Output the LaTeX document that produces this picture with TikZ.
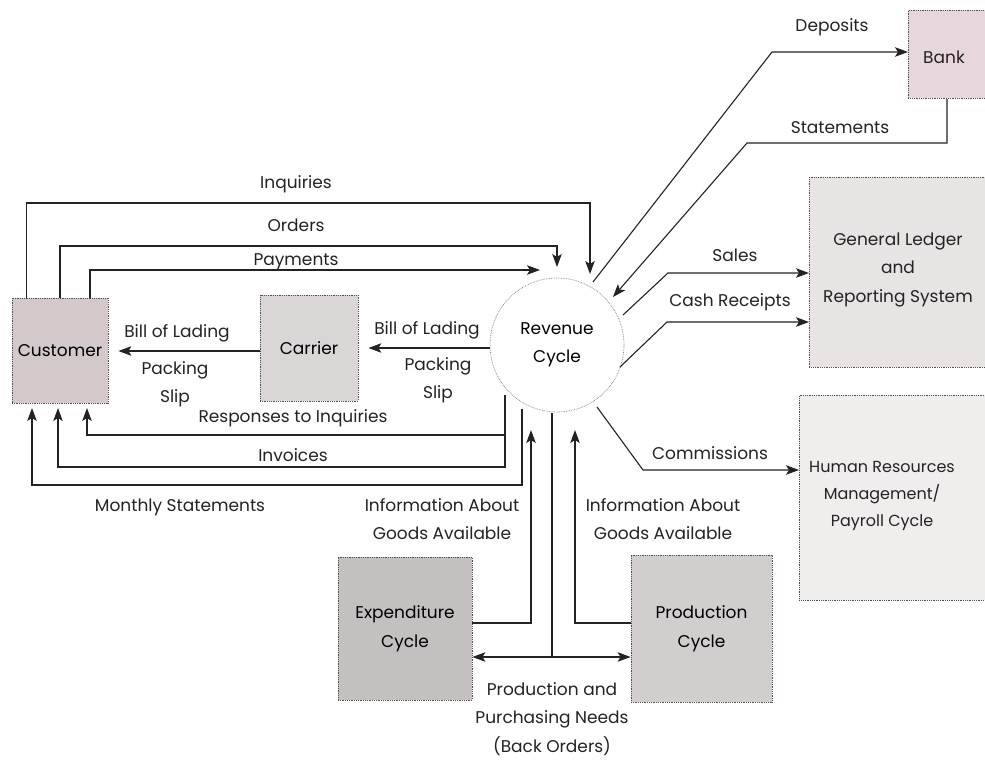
\documentclass[tikz,border=0pt]{standalone}
\usepackage{fontspec}
\setmainfont{Poppins}
\usetikzlibrary{arrows.meta,calc}
\definecolor{ink}{HTML}{232323}
\definecolor{custfill}{HTML}{D3C9CB}
\definecolor{carrfill}{HTML}{DAD6D6}
\definecolor{bankfill}{HTML}{E8D6DD}
\definecolor{glfill}{HTML}{E8E4E4}
\definecolor{hrfill}{HTML}{F0EDED}
\definecolor{expfill}{HTML}{C4C0C0}
\definecolor{prodfill}{HTML}{D2CECE}
\begin{document}
\begin{tikzpicture}[x=1pt,y=-1pt,
  font=\fontsize{17}{28.5}\selectfont,
  box/.style={draw=ink!80, densely dotted, line width=0.8pt, inner sep=0pt, align=center},
  flow/.style={draw=ink, line width=1.1pt},
  tip/.tip={Stealth[length=13pt,width=9.5pt,inset=3pt]},
  arr/.style={flow, -tip},
  lbl/.style={text=ink, inner sep=0pt, align=center}]
\clip (0,0) rectangle (985,762);
\fill[white] (0,0) rectangle (985,762);
% boxes
\node[box, fill=custfill, minimum width=96pt, minimum height=105pt] (cust) at (60,350.5) {Customer};
\node[box, fill=carrfill, minimum width=98pt, minimum height=106pt] (carr) at (309,348) {Carrier};
\node[box, fill=bankfill, minimum width=80pt, minimum height=88pt, anchor=north west] (bank) at (908,10) {};
\node[lbl] (banktxt) at (944,57) {Bank};
\node[box, fill=glfill, minimum width=185pt, minimum height=190pt, anchor=north west] (gl) at (809,177) {};
\node[lbl] (gltxt) at (898,270) {General Ledger\\and\\Reporting System};
\node[box, fill=hrfill, minimum width=195pt, minimum height=205pt, anchor=north west] (hr) at (799,395) {};
\node[lbl, font=\fontsize{16}{27}\selectfont] (hrtxt) at (882,496) {Human Resources\\Management/\\Payroll Cycle};
\node[box, fill=expfill, minimum width=134pt, minimum height=143pt] (exp) at (405,628.5) {Expenditure\\Cycle};
\node[box, fill=prodfill, minimum width=141pt, minimum height=147pt] (prod) at (701.5,628.5) {Production\\Cycle};
\node[draw=ink!60, densely dotted, line width=0.7pt, circle, minimum size=134pt, inner sep=0pt, align=center, fill=white] (rev) at (557,345) {Revenue\\Cycle};
% customer -> revenue
\coordinate (inqEnd) at (590,274);
\coordinate (ordEnd) at (557,267);
\coordinate (payEnd) at (540,270);
\draw[arr] ([xshift=15pt]cust.north west) |- (inqEnd |- 0,203) -- (inqEnd);
\draw[arr] (cust.north) |- (ordEnd |- 0,246) -- (ordEnd);
\draw[arr] ([xshift=30pt]cust.north) |- (payEnd);
\node[lbl] at (296,184) {Inquiries};
\node[lbl] at (296,225) {Orders};
\node[lbl] at (296,262) {Payments};
% shipping
\draw[arr, shorten >=10pt] (rev.west |- 0,348) -- (carr.east |- 0,348);
\draw[arr, shorten >=10pt] (carr.west |- 0,351) -- (cust.east |- 0,351);
\node[lbl] at (177,333) {Bill of Lading};
\node[lbl] at (175,384) {Packing\\Slip};
\node[lbl] at (427,330) {Bill of Lading};
\node[lbl] at (438,380) {Packing\\Slip};
% revenue -> customer
\coordinate (resStart) at (505,395);
\coordinate (monStart) at (522,409);
\draw[arr, shorten >=5pt] (resStart) |- (87,435) -- (87,403);
\draw[arr, shorten >=5pt] (resStart) |- (58,467) -- (58,403);
\draw[arr, shorten >=5pt] (monStart) |- (32,485) -- (32,403);
\node[lbl] at (293,418) {Responses to Inquiries};
\node[lbl] at (293,455) {Invoices};
\node[lbl] at (180,507) {Monthly Statements};
% expenditure / production
\coordinate (infoL) at (531,430);
\coordinate (infoR) at (575,430);
\draw[arr] (exp.east |- 0,623) -| (infoL);
\draw[arr] (prod.west |- 0,623) -| (infoR);
\node[lbl] at (442,519) {Information About\\Goods Available};
\node[lbl] at (663,519) {Information About\\Goods Available};
\coordinate (needTop) at (552,413);
\coordinate (needJoin) at (552,657);
\draw[flow] (needTop) -- (needJoin);
\draw[flow, tip-tip] (exp.east |- needJoin) -- (prod.west |- needJoin);
\node[lbl] at (552,719) {Production and\\Purchasing Needs\\(Back Orders)};
% bank
\coordinate (depStart) at (593,282);
\draw[arr] (depStart) -- (772,52) -- (bank.west |- 0,52);
\node[lbl] at (832,27) {Deposits};
\coordinate (statEnd) at (613,297);
\draw[arr] (bank.south -| 947,0) |- (747,143) -- (statEnd);
\node[lbl] at (840,128) {Statements};
% general ledger
\coordinate (salStart) at (623,315);
\coordinate (cashStart) at (620,367);
\draw[arr] (salStart) -- (668,273) -- (gl.west |- 0,273);
\draw[arr] (cashStart) -- (667,322) -- (gl.west |- 0,322);
\node[lbl] at (735,255) {Sales};
\node[lbl] at (730,302) {Cash Receipts};
% HR
\coordinate (comStart) at (597,407);
\draw[arr] (comStart) -- (643,470) -- (hr.west |- 0,470);
\node[lbl] at (710,453) {Commissions};
\end{tikzpicture}
\end{document}
